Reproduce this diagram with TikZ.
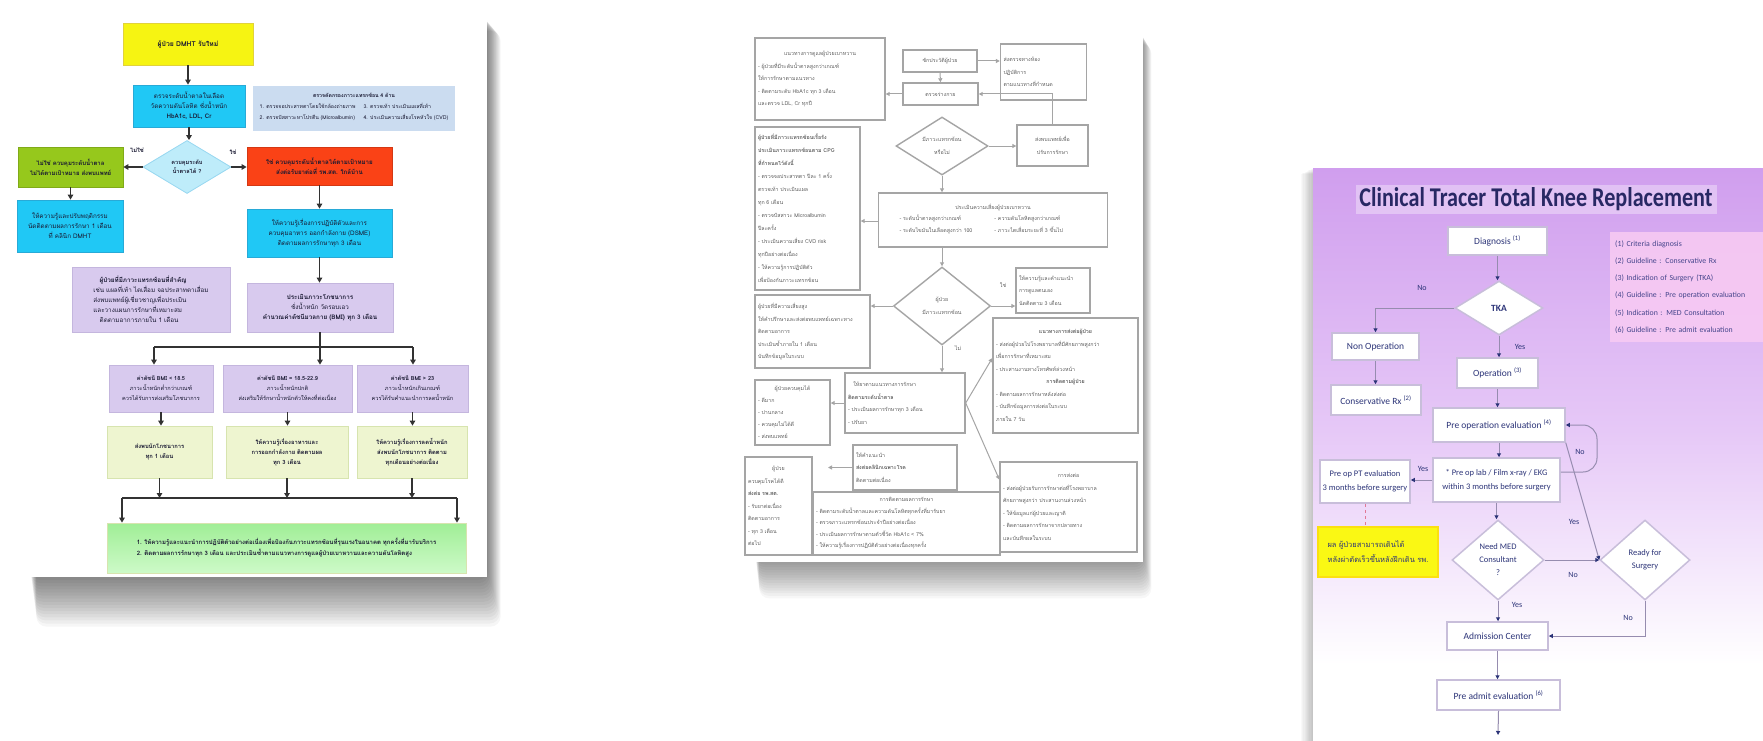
\documentclass[tikz,border=0pt]{standalone}
\usepackage{fontspec}
\usepackage{graphicx}
\setmainfont{Carlito}
\newfontfamily\thai[Script=Thai]{Loma}
\usetikzlibrary{arrows.meta,shapes.geometric,calc}
\definecolor{ycol}{RGB}{246,244,18}
\definecolor{ydraw}{RGB}{225,210,60}
\definecolor{cycol}{RGB}{32,200,245}
\definecolor{cydraw}{RGB}{40,170,215}
\definecolor{infocol}{RGB}{203,220,240}
\definecolor{diacol}{RGB}{190,236,250}
\definecolor{diadraw}{RGB}{150,215,240}
\definecolor{grcol}{RGB}{150,200,28}
\definecolor{redcol}{RGB}{250,66,22}
\definecolor{purcol}{RGB}{216,202,238}
\definecolor{purdraw}{RGB}{196,182,222}
\definecolor{lgcol}{RGB}{238,245,208}
\definecolor{lgdraw}{RGB}{215,228,175}
\definecolor{fgtop}{RGB}{160,238,150}
\definecolor{fgbot}{RGB}{205,250,200}
\definecolor{ltext}{RGB}{25,25,50}
\definecolor{lline}{RGB}{50,50,50}
\definecolor{mline}{RGB}{165,165,165}
\definecolor{mtext}{RGB}{95,95,95}
\definecolor{ptop}{RGB}{208,158,238}
\definecolor{pmid}{RGB}{230,200,247}
\definecolor{navy}{RGB}{44,52,120}
\definecolor{rbox}{RGB}{200,190,218}
\definecolor{legcol}{RGB}{247,202,243}
\definecolor{rline}{RGB}{150,140,175}
\definecolor{pinkline}{RGB}{225,120,150}
\definecolor{ryel}{RGB}{250,248,20}
\tikzset{
  lbox/.style={rectangle, inner sep=1pt, align=center, text=ltext, font=\thai\fontsize{6.3}{10}\selectfont, line width=0.8pt},
  larr/.style={draw=lline, line width=1.7pt, -{Triangle[length=5pt,width=5.5pt]}},
  lseg/.style={draw=lline, line width=1.7pt},
  llab/.style={text=ltext, font=\thai\bfseries\fontsize{5.8}{7}\selectfont, inner sep=0pt},
  mbox/.style={rectangle, draw=mline, line width=1.4pt, fill=white, inner sep=3pt, align=left, text=mtext, font=\thai\fontsize{5.3}{12.5}\selectfont},
  marr/.style={draw=mline, line width=1pt, -{Triangle[length=4pt,width=4pt]}},
  mdia/.style={diamond, draw=mline, line width=1.4pt, fill=white, inner sep=0pt, text=mtext, align=center, font=\thai\fontsize{5.3}{12.5}\selectfont},
  mlab/.style={text=mtext, font=\thai\fontsize{5.3}{7}\selectfont, inner sep=0pt},
  rbx/.style={rectangle, draw=rbox, line width=1.5pt, fill=white, inner sep=1pt, text=navy, align=center, font=\fontsize{9.5}{12}\selectfont},
  rdia/.style={diamond, draw=rbox, line width=1.5pt, fill=white, inner sep=0pt, text=navy, align=center, font=\fontsize{9.5}{12}\selectfont},
  rarr/.style={draw=rline, line width=1pt, -{Triangle[length=4pt,width=4pt,color=navy]}},
  rlab/.style={text=navy, font=\fontsize{8}{9}\selectfont, inner sep=0pt},
}
\begin{document}
\begin{tikzpicture}[x=1pt,y=-1pt]
\useasboundingbox (0,0) rectangle (1763,741);
\fill[white] (0,0) rectangle (1763,741);

% ---------- shadows ----------
\foreach \i in {1,...,16}{
  \fill[black,opacity=0.035,rounded corners=10pt] ({30+\i*0.4},{15+\i*1.0}) rectangle ({487+\i*0.85},{577+\i*3.1});
}
\foreach \i in {1,...,14}{
  \fill[black,opacity=0.03,rounded corners=10pt] ({755+\i*0.3},{30+\i*1}) rectangle ({1143+\i*0.6},{562+\i*2.6});
}
\foreach \i in {1,...,10}{
  \fill[black,opacity=0.022] ({1313-\i*1.2},{168+\i*0.6}) rectangle (1763,741);
}

% ---------- panels ----------
\fill[white] (13,15) rectangle (487,577);
\fill[white] (740,28) rectangle (1143,562);
\shade[top color=ptop, bottom color=pmid] (1313,168) rectangle (1763,430);
\shade[top color=pmid, bottom color=white] (1313,430) rectangle (1763,665);
\fill[white] (1313,665) rectangle (1763,741);

% =============== LEFT PANEL ===============
\node[lbox, fill=ycol, draw=ydraw, minimum width=130pt, minimum height=42pt, font=\thai\bfseries\fontsize{6.8}{10}\selectfont] (yel) at (188,44) {ผู้ป่วย DMHT รับใหม่};
\node[lbox, fill=cycol, draw=cydraw, minimum width=112pt, minimum height=42pt] (cy1) at (189,106) {ตรวจระดับน้ำตาลในเลือด\\วัดความดันโลหิต ชั่งน้ำหนัก\\{\bfseries HbA1c, LDL, Cr}};
\node[lbox, fill=infocol, minimum width=202pt, minimum height=45pt, font=\thai\fontsize{5.2}{9}\selectfont] (info) at (354,108.5) {{\bfseries ตรวจคัดกรองภาวะแทรกซ้อน 4 ด้าน}\\[1pt]\def\arraystretch{1.3}\begin{tabular}{@{}l@{\hspace{8pt}}l@{}}1. ตรวจจอประสาทตาโดยใช้กล้องถ่ายภาพ & 3. ตรวจเท้า ประเมินแผลที่เท้า\\2. ตรวจปัสสาวะหาโปรตีน (Microalbumin) & 4. ประเมินความเสี่ยงโรคหัวใจ (CVD)\end{tabular}};
\node[diamond, aspect=1.66, inner sep=0pt, fill=diacol, draw=diadraw, line width=0.8pt, minimum width=88pt, minimum height=53pt, align=center, text=ltext, font=\thai\bfseries\fontsize{5.6}{9}\selectfont] (dia) at (187,167) {ควบคุมระดับ\\น้ำตาลได้ ?};
\node[lbox, fill=grcol, draw=grcol!85!black, minimum width=105pt, minimum height=40pt, font=\thai\bfseries\fontsize{6}{10}\selectfont] (grn) at (70.5,167) {ไม่ใช่ ควบคุมระดับน้ำตาล\\ไม่ได้ตามเป้าหมาย ส่งพบแพทย์};
\node[lbox, fill=cycol, draw=cydraw, minimum width=106pt, minimum height=52pt] (cy2) at (70,226) {ให้ความรู้และปรับพฤติกรรม\\นัดติดตามผลการรักษา 1 เดือน\\ที่ คลินิก DMHT};
\node[lbox, fill=redcol, draw=redcol!85!black, minimum width=145pt, minimum height=38pt, font=\thai\bfseries\fontsize{6.2}{10}\selectfont] (red) at (319.5,166) {ใช่ ควบคุมระดับน้ำตาลได้ตามเป้าหมาย\\ส่งต่อรับยาต่อที่ รพ.สต. ใกล้บ้าน};
\node[lbox, fill=cycol, draw=cydraw, minimum width=145pt, minimum height=48pt] (cy3) at (319.5,233) {ให้ความรู้เรื่องการปฏิบัติตัวและการ\\ควบคุมอาหาร ออกกำลังกาย (DSME)\\ติดตามผลการรักษาทุก 3 เดือน};
\node[lbox, fill=purcol, draw=purdraw, minimum width=146pt, minimum height=49pt] (pur2) at (320,307.5) {{\bfseries ประเมินภาวะโภชนาการ}\\ชั่งน้ำหนัก วัดรอบเอว\\{\bfseries คำนวณค่าดัชนีมวลกาย (BMI) ทุก 3 เดือน}};
\node[lbox, fill=purcol, draw=purdraw, minimum width=158pt, minimum height=65pt, align=left] (pur1) at (151,299.5) {\quad{\bfseries ผู้ป่วยที่มีภาวะแทรกซ้อนที่สำคัญ}\\เช่น แผลที่เท้า ไตเสื่อม จอประสาทตาเสื่อม\\ส่งพบแพทย์ผู้เชี่ยวชาญเพื่อประเมิน\\และวางแผนการรักษาที่เหมาะสม\\\quad ติดตามอาการภายใน 1 เดือน};
\node[lbox, fill=purcol, draw=purdraw, minimum width=104pt, minimum height=47pt, font=\thai\fontsize{5.6}{10}\selectfont] (bmiA) at (161,388.5) {{\bfseries ค่าดัชนี BMI < 18.5}\\ภาวะน้ำหนักต่ำกว่าเกณฑ์\\ควรได้รับการส่งเสริมโภชนาการ};
\node[lbox, fill=purcol, draw=purdraw, minimum width=129pt, minimum height=47pt, font=\thai\fontsize{5.6}{10}\selectfont] (bmiB) at (287.5,388.5) {{\bfseries ค่าดัชนี BMI = 18.5-22.9}\\ภาวะน้ำหนักปกติ\\ส่งเสริมให้รักษาน้ำหนักตัวให้คงที่ต่อเนื่อง};
\node[lbox, fill=purcol, draw=purdraw, minimum width=111pt, minimum height=47pt, font=\thai\fontsize{5.6}{10}\selectfont] (bmiC) at (412.5,388.5) {{\bfseries ค่าดัชนี BMI > 23}\\ภาวะน้ำหนักเกินเกณฑ์\\ควรได้รับคำแนะนำการลดน้ำหนัก};
\node[lbox, fill=lgcol, draw=lgdraw, minimum width=105pt, minimum height=52pt, font=\thai\bfseries\fontsize{5.8}{10}\selectfont] (gA) at (159.5,452) {ส่งพบนักโภชนาการ\\ทุก 1 เดือน};
\node[lbox, fill=lgcol, draw=lgdraw, minimum width=122pt, minimum height=52pt, font=\thai\bfseries\fontsize{5.8}{10}\selectfont] (gB) at (287,452) {ให้ความรู้เรื่องอาหารและ\\การออกกำลังกาย ติดตามผล\\ทุก 3 เดือน};
\node[lbox, fill=lgcol, draw=lgdraw, minimum width=110pt, minimum height=52pt, font=\thai\bfseries\fontsize{5.8}{10}\selectfont] (gC) at (412,452) {ให้ความรู้เรื่องการลดน้ำหนัก\\ส่งพบนักโภชนาการ ติดตาม\\ทุกเดือนอย่างต่อเนื่อง};
\node[lbox, top color=fgtop, bottom color=fgbot, draw=lgdraw, minimum width=359pt, minimum height=50pt, align=left, font=\thai\bfseries\fontsize{6}{11}\selectfont] (fin) at (286.5,548) {1. ให้ความรู้และแนะนำการปฏิบัติตัวอย่างต่อเนื่องเพื่อป้องกันภาวะแทรกซ้อนที่รุนแรงในอนาคต ทุกครั้งที่มารับบริการ\\2. ติดตามผลการรักษาทุก 3 เดือน และประเมินซ้ำตามแนวทางการดูแลผู้ป่วยเบาหวานและความดันโลหิตสูง};
\node[llab] (lNo) at (137,150) {ไม่ใช่};
\node[llab] (lYes) at (233,152) {ใช่};

\draw[larr] (yel.south) -- (yel.south |- cy1.north);
\draw[larr] (cy1.south) -- (cy1.south |- dia.north);
\draw[larr] (dia.west) -- (dia.west -| grn.east);
\draw[larr] (dia.east) -- (dia.east -| red.west);
\draw[larr] (grn.south) -- (grn.south |- cy2.north);
\draw[larr] (red.south) -- (red.south |- cy3.north);
\draw[larr] (cy3.south) -- (cy3.south |- pur2.north);
\coordinate (busL) at (154,347);
\coordinate (busR) at (413,347);
\draw[lseg] (busL) -- (busR);
\draw[larr] (busL) -- (busL |- bmiA.north);
\draw[larr] (pur2.south) -- (pur2.south |- bmiB.north);
\draw[larr] (busR) -- (busR |- bmiC.north);
\draw[larr] (bmiA.south) -- (bmiA.south |- gA.north);
\draw[larr] (bmiB.south) -- (bmiB.south |- gB.north);
\draw[larr] (bmiC.south) -- (bmiC.south |- gC.north);
\coordinate (bus2L) at (122,498);
\coordinate (bus2R) at (457,498);
\draw[lseg] (bus2L) -- (bus2R);
\draw[larr] (gA.south) -- (gA.south |- bus2L);
\draw[larr] (gB.south) -- (gB.south |- bus2L);
\draw[larr] (gC.south) -- (gC.south |- bus2L);
\draw[larr] (bus2L) -- (bus2L |- fin.north);
\draw[larr] (bus2R) -- (bus2R |- fin.north);

% =============== MIDDLE PANEL ===============
\node[mbox, text width=124pt, minimum height=82pt] (mA) at (820,79) {{\centering แนวทางการดูแลผู้ป่วยเบาหวาน\par}- ผู้ป่วยที่มีระดับน้ำตาลสูงกว่าเกณฑ์\\ให้การรักษาตามแนวทาง\\- ติดตามระดับ HbA1c ทุก 3 เดือน\\และตรวจ LDL, Cr ทุกปี};
\node[mbox, align=center, minimum width=74pt, minimum height=22pt] (mB) at (940,61) {ซักประวัติผู้ป่วย};
\node[mbox, align=center, minimum width=75pt, minimum height=22pt] (mB2) at (940.5,94) {ตรวจร่างกาย};
\node[mbox, text width=80pt, minimum height=56pt] (mC) at (1043.5,72) {ส่งตรวจทางห้อง\\ปฏิบัติการ\\ตามแนวทางที่กำหนด};
\node[mdia, aspect=1.6, minimum width=92pt, minimum height=58pt] (mDia1) at (942,146) {มีภาวะแทรกซ้อน\\หรือไม่};
\node[mbox, align=center, minimum width=71pt, minimum height=41pt] (mD) at (1052.5,145.5) {ส่งพบแพทย์เพื่อ\\ปรับการรักษา};
\node[mbox, text width=223pt, minimum height=54pt] (mE) at (993,220) {{\centering ประเมินความเสี่ยงผู้ป่วยเบาหวาน\par}\def\arraystretch{0.95}\hspace*{18pt}\begin{tabular}{@{}l@{\hspace{22pt}}l@{}}- ระดับน้ำตาลสูงกว่าเกณฑ์ & - ความดันโลหิตสูงกว่าเกณฑ์\\- ระดับไขมันในเลือดสูงกว่า 100 & - ภาวะไตเสื่อมระยะที่ 3 ขึ้นไป\end{tabular}};
\node[mbox, text width=99pt, minimum height=163pt, font=\thai\fontsize{5.3}{13}\selectfont] (mF) at (807.5,208.5) {{\bfseries ผู้ป่วยที่มีภาวะแทรกซ้อนเรื้อรัง}\\{\bfseries ประเมินภาวะแทรกซ้อนตาม CPG}\\{\bfseries ที่กำหนดไว้ดังนี้}\\- ตรวจจอประสาทตา ปีละ 1 ครั้ง\\ตรวจเท้า ประเมินแผล\\ทุก 6 เดือน\\- ตรวจปัสสาวะ Microalbumin\\ปีละครั้ง\\- ประเมินความเสี่ยง CVD risk\\ทุกปีอย่างต่อเนื่อง\\- ให้ความรู้การปฏิบัติตัว\\เพื่อป้องกันภาวะแทรกซ้อน};
\node[mdia, aspect=1.25, minimum width=97pt, minimum height=78pt] (mDia2) at (942,306) {ผู้ป่วย\\มีภาวะแทรกซ้อน};
\node[mbox, text width=109pt, minimum height=73pt] (mG) at (812.5,331.5) {ผู้ป่วยที่มีความเสี่ยงสูง\\ให้คำปรึกษาและส่งต่อพบแพทย์เฉพาะทาง\\ติดตามอาการ\\ประเมินซ้ำภายใน 1 เดือน\\บันทึกข้อมูลในระบบ};
\node[mbox, text width=68pt, minimum height=45pt] (mH) at (1053,290.5) {ให้ความรู้และคำแนะนำ\\การดูแลตนเอง\\นัดติดตาม 3 เดือน};
\node[mbox, text width=139pt, minimum height=115pt] (mI) at (1065.5,375.5) {{\centering\bfseries แนวทางการส่งต่อผู้ป่วย\par}- ส่งต่อผู้ป่วยไปโรงพยาบาลที่มีศักยภาพสูงกว่า\\เพื่อการรักษาที่เหมาะสม\\- ประสานงานทางโทรศัพท์ล่วงหน้า\\{\centering\bfseries การติดตามผู้ป่วย\par}- ติดตามผลการรักษาหลังส่งต่อ\\- บันทึกข้อมูลการส่งต่อในระบบ\\ภายใน 7 วัน};
\node[mbox, text width=114pt, minimum height=60pt] (mJ) at (905,403) {\quad ให้ยาตามแนวทางการรักษา\\{\bfseries ติดตามระดับน้ำตาล}\\- ประเมินผลการรักษาทุก 3 เดือน\\- ปรับยา};
\node[mbox, text width=69pt, minimum height=65pt, font=\thai\fontsize{5.3}{12}\selectfont] (mL) at (792.5,412.5) {{\centering ผู้ป่วยควบคุมได้\par}- ดีมาก\\- ปานกลาง\\- ควบคุมไม่ได้ดี\\- ส่งพบแพทย์};
\node[mbox, text width=98pt, minimum height=45pt] (mM) at (905,467.5) {ให้คำแนะนำ\\{\bfseries ส่งต่อคลินิกเฉพาะโรค}\\ติดตามต่อเนื่อง};
\node[mbox, text width=61pt, minimum height=98pt] (mN) at (778.5,506) {{\centering ผู้ป่วย\par}ควบคุมโรคได้ดี\\{\bfseries ส่งต่อ รพ.สต.}\\- รับยาต่อเนื่อง\\ติดตามอาการ\\- ทุก 3 เดือน\\ต่อไป};
\node[mbox, text width=181pt, minimum height=63pt, font=\thai\fontsize{5.3}{11.5}\selectfont] (mO) at (906.5,523.5) {{\centering การติดตามผลการรักษา\par}- ติดตามระดับน้ำตาลและความดันโลหิตทุกครั้งที่มารับยา\\- ตรวจภาวะแทรกซ้อนประจำปีอย่างต่อเนื่อง\\- ประเมินผลการรักษาตามตัวชี้วัด HbA1c < 7\%\\- ให้ความรู้เรื่องการปฏิบัติตัวอย่างต่อเนื่องทุกครั้ง};
\node[mbox, text width=131pt, minimum height=90pt] (mK) at (1068.5,507) {{\centering การส่งต่อ\par}- ส่งต่อผู้ป่วยรับการรักษาต่อที่โรงพยาบาล\\ศักยภาพสูงกว่า ประสานงานล่วงหน้า\\- ให้ข้อมูลแก่ผู้ป่วยและญาติ\\- ติดตามผลการรักษาจากปลายทาง\\และบันทึกผลในระบบ};
\node[mlab] (mYes) at (1003,285) {ใช่};
\node[mlab] (mNo) at (958,348) {ไม่};
\coordinate (mMend) at (828,467.5);

\draw[marr] (mB.east) -- (mB.east -| mC.west);
\draw[marr] (mB.south) -- (mB2.north);
\draw[marr] (mD.north) |- (mB2.east);
\draw[marr] (mB2.west) -- (mB2.west -| mA.east);
\draw[marr] (mDia1.east) -- (mDia1.east -| mD.west);
\draw[marr] (mDia1.south) -- (mDia1.south |- mE.north);
\draw[marr] (mE.west |- 0,221) -- (mF.east |- 0,221);
\draw[marr] (mE.south -| mDia2.north) -- (mDia2.north);
\draw[marr] (mDia2.west) -- (mDia2.west -| mG.east);
\draw[marr] (mDia2.east) -- (mDia2.east -| mH.west);
\draw[marr] (mDia2.south) -- (mDia2.south |- mJ.north);
\draw[marr] (mJ.west) -- (mJ.west -| mL.east);
\draw[marr] (mJ.east) -- ($(mI.north west)!0.35!(mI.south west)$);
\draw[marr] (mJ.east) -- ($(mK.north west)!0.2!(mK.south west)$);
\draw[marr] (mM.west) -- (mMend);

% =============== RIGHT PANEL ===============
\fill[white, opacity=0.35] (1356,185) rectangle (1717,214);
\node[inner sep=0pt, text={rgb,255:red,40;green,40;blue,100}] (title) at (1536,199) {\resizebox{353pt}{19pt}{\bfseries Clinical Tracer Total Knee Replacement}};
\node[rbx, minimum width=99pt, minimum height=28pt] (rDiag) at (1497.5,241) {Diagnosis \textsuperscript{(1)}};
\node[rdia, aspect=1.63, minimum width=88pt, minimum height=54pt] (rTKA) at (1499,308) {\bfseries TKA};
\node[rbx, minimum width=87pt, minimum height=27pt] (rNon) at (1375.5,346.5) {Non Operation};
\node[rbx, minimum width=90pt, minimum height=30pt] (rCons) at (1376,400) {Conservative Rx \textsuperscript{(2)}};
\node[rbx, minimum width=81pt, minimum height=30pt] (rOp) at (1497.5,373) {Operation \textsuperscript{(3)}};
\node[rbx, minimum width=132pt, minimum height=34pt] (rPre) at (1499,425) {Pre operation evaluation \textsuperscript{(4)}};
\node[rbx, minimum width=127pt, minimum height=44pt, font=\fontsize{8.5}{14}\selectfont] (rLab) at (1496.5,480) {* Pre op lab / Film x-ray / EKG\\within 3 months before surgery};
\node[rbx, minimum width=90pt, minimum height=43pt, font=\fontsize{8.5}{14}\selectfont] (rPT) at (1365,481.5) {Pre op PT evaluation\\3 months before surgery};
\node[rbx, fill=ryel, draw=ryel!80!orange, minimum width=120pt, minimum height=50pt, align=left, font=\thai\fontsize{7.5}{15}\selectfont] (rYel) at (1378,552) {ผล ผู้ป่วยสามารถเดินได้\\หลังผ่าตัดเร็วขึ้นหลังฝึกเดิน รพ.};
\node[rdia, aspect=1.15, minimum width=92pt, minimum height=80pt, font=\fontsize{8.5}{13}\selectfont] (rMed) at (1498,560) {Need MED\\Consultant\\?};
\node[rdia, aspect=1.12, minimum width=90pt, minimum height=80pt, font=\fontsize{8.5}{13}\selectfont] (rReady) at (1645,560) {Ready for\\Surgery};
\node[rbx, minimum width=101pt, minimum height=28pt] (rAdm) at (1497.5,636) {Admission Center};
\node[rbx, minimum width=123pt, minimum height=30pt] (rAdmit) at (1498.5,695) {Pre admit evaluation \textsuperscript{(6)}};
\node[anchor=west, fill=legcol, fill opacity=0.9, text opacity=1, minimum height=110pt, minimum width=160pt, text width=150pt, align=left, inner sep=3pt, font=\fontsize{7.8}{17.3}\selectfont, text={rgb,255:red,70;green,70;blue,140}] (rLeg) at (1610,287) {(1) Criteria diagnosis\\(2) Guideline : Conservative Rx\\(3) Indication of Surgery (TKA)\\(4) Guideline : Pre operation evaluation\\(5) Indication : MED Consultation\\(6) Guideline : Pre admit evaluation};
\coordinate (rEnd) at (1498,735);
\coordinate (rLoopA) at (1597,472);
\coordinate (rLoopB) at (1597,425);

\draw[rarr] (rDiag.south) -- (rDiag.south |- rTKA.north);
\draw[rarr] (rTKA.west) -| (rNon.north);
\draw[rarr] (rTKA.south) -- (rTKA.south |- rOp.north);
\draw[rarr] (rNon.south) -- (rNon.south |- rCons.north);
\draw[rarr] (rOp.south) -- (rOp.south |- rPre.north);
\draw[rarr] (rPre.south) -- (rPre.south |- rLab.north);
\draw[rarr, rounded corners=14pt] (rLab.east |- rLoopA) -- (rLoopA) -- (rLoopB) -- (rPre.east);
\draw[rarr] (rLab.west) -- (rLab.west -| rPT.east);
\draw[draw=pinkline, line width=1pt, dashed] (rPT.south) -- (rPT.south |- rYel.north);
\draw[rarr] (rLab.south) -- (rLab.south |- rMed.north);
\draw[rarr] (rPre.south east) -- (rReady.west);
\draw[rarr] (rMed.east) -- (rReady.west);
\draw[rarr] (rReady.south) |- (rAdm.east);
\draw[rarr] (rMed.south) -- (rMed.south |- rAdm.north);
\draw[rarr] (rAdm.south) -- (rAdm.south |- rAdmit.north);
\draw[rarr] (rAdmit.south) -- (rEnd);
\node[rlab] (rl1) at (1422,288) {No};
\node[rlab] (rl2) at (1520,347) {Yes};
\node[rlab] (rl3) at (1580,452) {No};
\node[rlab] (rl4) at (1423,469) {Yes};
\node[rlab] (rl5) at (1574,522) {Yes};
\node[rlab] (rl6) at (1573,575) {No};
\node[rlab] (rl7) at (1517,605) {Yes};
\node[rlab] (rl8) at (1628,618) {No};
\end{tikzpicture}
\end{document}
